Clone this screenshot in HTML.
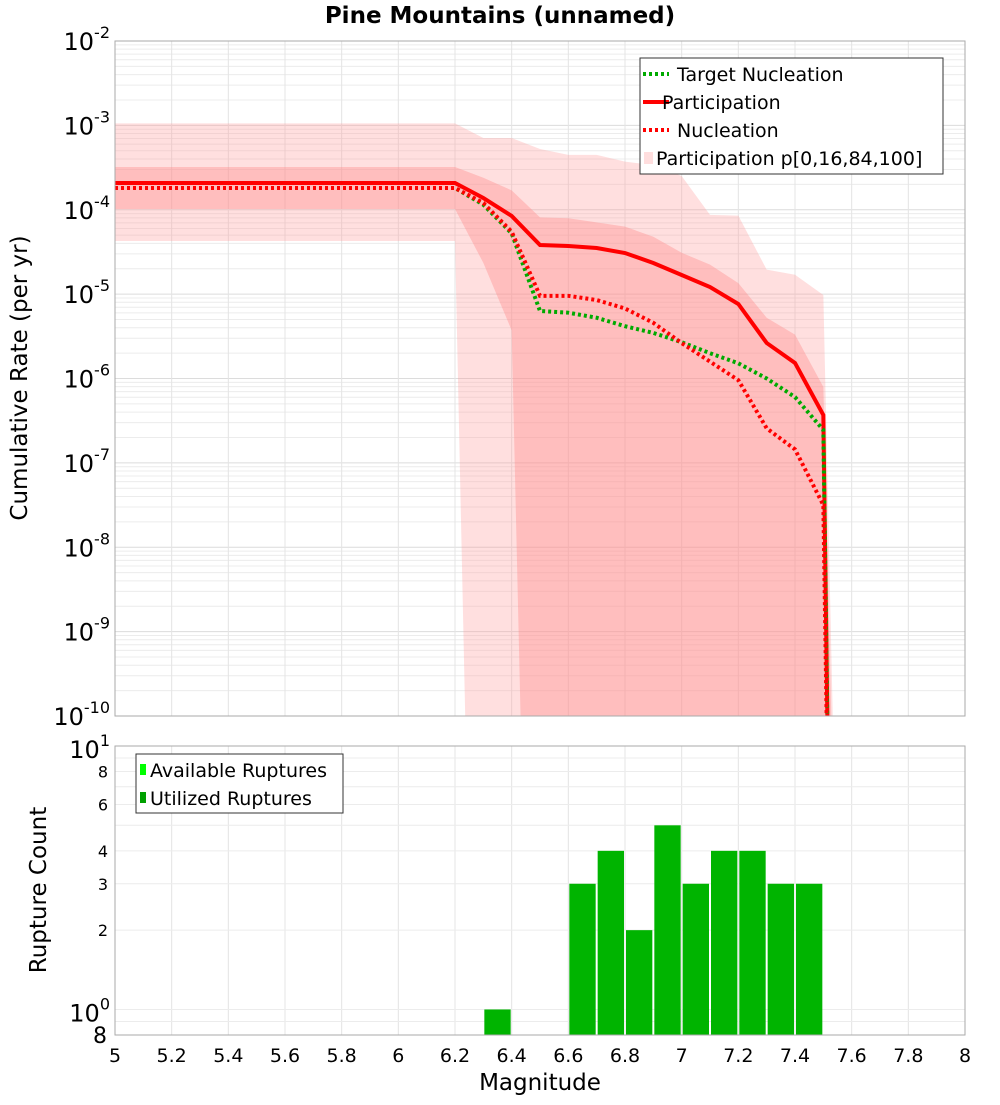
<!DOCTYPE html>
<html><head><meta charset="utf-8"><style>
body{margin:0;background:#fff;}
svg text{font-family:"DejaVu Sans","Liberation Sans",sans-serif;}
</style></head><body>
<svg id="chart" width="1000" height="1100" xmlns="http://www.w3.org/2000/svg">
<text x="500" y="23" text-anchor="middle" font-size="23" font-weight="bold">Pine Mountains (unnamed)</text>
<g id="topG"></g>
<g id="botG"></g>
<text transform="translate(27,378) rotate(-90)" text-anchor="middle" font-size="23">Cumulative Rate (per yr)</text>
<text transform="translate(46,890) rotate(-90)" text-anchor="middle" font-size="23">Rupture Count</text>
<text x="540" y="1090" text-anchor="middle" font-size="23">Magnitude</text>
</svg>
<script>
const mags = [5.0,5.1,5.2,5.3,5.4,5.5,5.6,5.7,5.8,5.9,6.0,6.1,6.2,6.3,6.4,6.5,6.6,6.7,6.8,6.9,7.0,7.1,7.2,7.3,7.4,7.5];
const partLog = [-3.683,-3.683,-3.683,-3.683,-3.683,-3.683,-3.683,-3.683,-3.683,-3.683,-3.683,-3.683,-3.683,-3.861,-4.074,-4.418,-4.430,-4.453,-4.513,-4.631,-4.773,-4.916,-5.117,-5.579,-5.816,-6.433];
const nuclLog = [-3.742,-3.742,-3.742,-3.742,-3.742,-3.742,-3.742,-3.742,-3.742,-3.742,-3.742,-3.742,-3.742,-3.92,-4.26,-5.02,-5.02,-5.07,-5.17,-5.34,-5.58,-5.80,-6.02,-6.59,-6.84,-7.50];
const targLog = [-3.742,-3.742,-3.742,-3.742,-3.742,-3.742,-3.742,-3.742,-3.742,-3.742,-3.742,-3.742,-3.742,-3.94,-4.28,-5.20,-5.22,-5.28,-5.38,-5.46,-5.57,-5.70,-5.82,-6.00,-6.22,-6.61];
const endMag = 7.53;
const p100Log = [-2.976,-2.976,-2.976,-2.976,-2.976,-2.976,-2.976,-2.976,-2.976,-2.976,-2.976,-2.976,-2.976,-3.15,-3.15,-3.28,-3.35,-3.35,-3.43,-3.47,-3.60,-4.06,-4.07,-4.71,-4.77,-5.01];
const p84Log = [-3.493,-3.493,-3.493,-3.493,-3.493,-3.493,-3.493,-3.493,-3.493,-3.493,-3.493,-3.493,-3.493,-3.62,-3.77,-4.09,-4.10,-4.15,-4.20,-4.32,-4.51,-4.65,-4.87,-5.28,-5.48,-6.10];
const p16Log = [-3.991,-3.991,-3.991,-3.991,-3.991,-3.991,-3.991,-3.991,-3.991,-3.991,-3.991,-3.991,-3.991,-4.63,-5.43,-20];
const p0Log = [-4.370,-4.370,-4.370,-4.370,-4.370,-4.370,-4.370,-4.370,-4.370,-4.370,-4.370,-4.370,-4.370,-20];
const bandEndMag = 7.6;
const binCenters = [6.35,6.65,6.75,6.85,6.95,7.05,7.15,7.25,7.35,7.45];
const binCounts = [1,3,4,2,5,3,4,4,3,3];
const xTicks = [5,5.2,5.4,5.6,5.8,6,6.2,6.4,6.6,6.8,7,7.2,7.4,7.6,7.8,8];
const yTopExps = [-2,-3,-4,-5,-6,-7,-8,-9,-10];
const yBotMinor = [8,6,4,3,2];

const NS="http://www.w3.org/2000/svg";
const L=115,R=965,T1=41,B1=716,T2=746,B2=1035;
const xs=m=>L+(m-5)/3*(R-L);
const y1=l=>T1+(-2-l)/8*(B1-T1);
const lb0=Math.log10(0.8),lb1=1;
const y2=v=>B2-(Math.log10(v)-lb0)/(lb1-lb0)*(B2-T2);
function mk(p,tag,a){const e=document.createElementNS(NS,tag);for(const k in a)e.setAttribute(k,a[k]);p.appendChild(e);return e;}
const svgEl=document.getElementById('chart');
const defs=mk(svgEl,'defs',{});
const c1=mk(defs,'clipPath',{id:'c1'});mk(c1,'rect',{x:L,y:T1,width:R-L,height:B1-T1});
const c2=mk(defs,'clipPath',{id:'c2'});mk(c2,'rect',{x:L,y:T2,width:R-L,height:B2-T2});
const topG=document.getElementById('topG'),botG=document.getElementById('botG');

for(let e=-10;e<-2;e++)for(let k=1;k<10;k++){const y=y1(e+Math.log10(k));
 const g=mk(topG,'line',{x1:L,x2:R,y1:y,y2:y,stroke:k==1?'#dcdcdc':'#ececec','stroke-width':1});
 
 }
for(const t of xTicks){const g=mk(topG,'line',{x1:xs(t),x2:xs(t),y1:T1,y2:B1,stroke:'#e4e4e4'});
 
 
 const g2=mk(botG,'line',{x1:xs(t),x2:xs(t),y1:T2,y2:B2,stroke:'#e4e4e4'});
 
 }
for(const v of [0.8,0.9,1,2,3,4,5,6,7,8,9,10]){const g=mk(botG,'line',{x1:L,x2:R,y1:y2(v),y2:y2(v),stroke:'#ececec'});
 
 }

const gp=mk(topG,'g',{'clip-path':'url(#c1)'});
function band(up,lo,fill,name){
 const pts=[];
 up.forEach((v,i)=>pts.push([xs(mags[i]),y1(v)]));
 pts.push([xs(bandEndMag),y1(-20)]);
 const lower=lo.map((v,i)=>[xs(mags[i]),y1(v)]);
 if(lo.length<mags.length)lower.push([xs(bandEndMag),y1(-20)]);
 for(let i=lower.length-1;i>=0;i--)pts.push(lower[i]);
 const p=mk(gp,'polygon',{points:pts.map(q=>q.join(',')).join(' '),fill:fill});
 
 
}
band(p100Log,p0Log,'rgba(255,150,150,0.3)','band-p0-p100');
band(p84Log,p16Log,'rgba(255,140,140,0.4)','band-p16-p84');
function line(arr,stroke,dash,name,w){
 const pts=arr.map((v,i)=>xs(mags[i])+','+y1(v));
 pts.push(xs(endMag)+','+y1(-14));
 const p=mk(gp,'polyline',{points:pts.join(' '),fill:'none',stroke:stroke,'stroke-width':w});
 if(dash)p.setAttribute('stroke-dasharray',dash);
 
 
}
line(partLog,'#ff0000',null,'participation-line',4);
line(targLog,'#00aa00','3,3','target-nucleation-line',4);
line(nuclLog,'#ff0000','3,3','nucleation-line',4);
mk(topG,'rect',{x:L,y:T1,width:R-L,height:B1-T1,fill:'none',stroke:'#aaa'});

yTopExps.forEach(e=>{const t=mk(topG,'text',{x:110,y:y1(e)+9,'text-anchor':'end','font-size':24});
 
 
 t.textContent='10';const s=mk(t,'tspan',{dy:-12,'font-size':16});s.textContent=e;});

const gb=mk(botG,'g',{'clip-path':'url(#c2)'});
binCenters.forEach((m,i)=>{const x0=xs(m-0.05)+1,x1=xs(m+0.05)-1,yy=y2(binCounts[i]);
 const r=mk(gb,'rect',{x:x0,y:yy,width:x1-x0,height:B2-yy,fill:'#00b400'});
 
 });
mk(botG,'rect',{x:L,y:T2,width:R-L,height:B2-T2,fill:'none',stroke:'#aaa'});
[[10,'1'],[1,'0']].forEach(([v,e])=>{const t=mk(botG,'text',{x:110,y:y2(v)+12,'text-anchor':'end','font-size':24});
 
 
 t.textContent='10';const s=mk(t,'tspan',{dy:-12,'font-size':16});s.textContent=e;});
yBotMinor.forEach(v=>{const t=mk(botG,'text',{x:108,y:y2(v)+6,'text-anchor':'end','font-size':16});
 
 
 t.textContent=v;});
const t8=mk(botG,'text',{x:107,y:B2+8,'text-anchor':'end','font-size':22});


t8.textContent='8';
xTicks.forEach(v=>{const t=mk(botG,'text',{x:xs(v),y:1062,'text-anchor':'middle','font-size':19});
 
 
 t.textContent=v;});

const lg=mk(topG,'g',{});


mk(lg,'rect',{x:640,y:58,width:303,height:116,fill:'#fff',stroke:'#333'});
const items=[['Target Nucleation','#00aa00','3,3',677],['Participation','#ff0000',null,662],['Nucleation','#ff0000','3,3',677],['Participation p[0,16,84,100]',null,null,656]];
items.forEach((it,i)=>{const y=74+i*28;
 if(it[1])mk(lg,'line',{x1:643,x2:669,y1:y,y2:y,stroke:it[1],'stroke-width':4,'stroke-dasharray':it[2]||'none'});
 else mk(lg,'rect',{x:644,y:y-6,width:9,height:12,fill:'#ffdede'});
 const t=mk(lg,'text',{x:it[3],y:y+7,'font-size':19});
 
 
 t.textContent=it[0];});
const lg2=mk(botG,'g',{});


mk(lg2,'rect',{x:136,y:754,width:207,height:59,fill:'#fff',stroke:'#333'});
[['Available Ruptures','#00ff00'],['Utilized Ruptures','#00a000']].forEach((it,i)=>{const y=770+i*28;
 mk(lg2,'rect',{x:140,y:y-6,width:6,height:11,fill:it[1]});
 const t=mk(lg2,'text',{x:150,y:y+7,'font-size':19});
 
 
 t.textContent=it[0];});
</script>
</body></html>
